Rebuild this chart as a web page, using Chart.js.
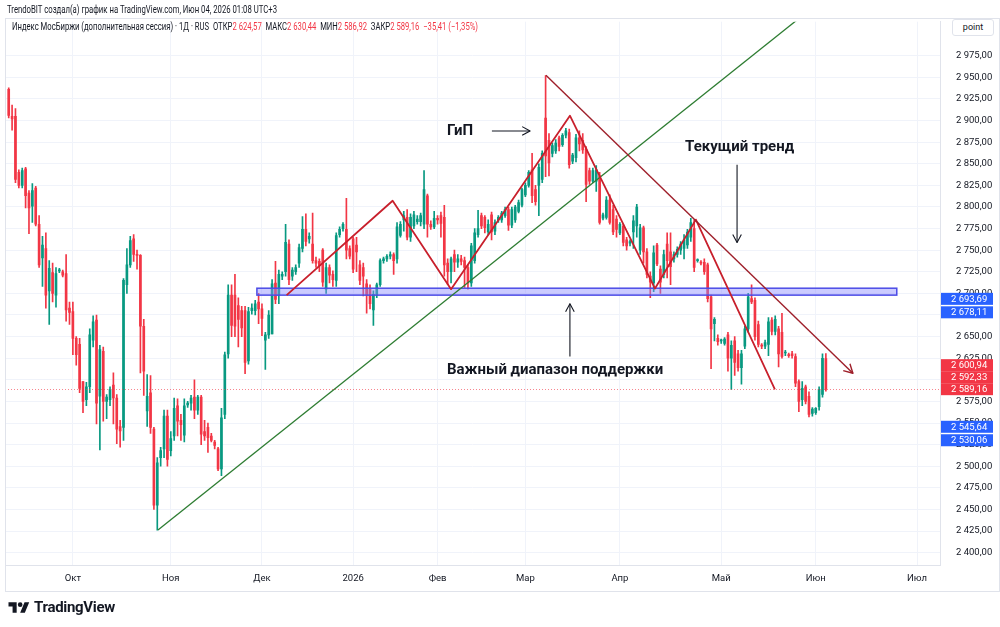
<!DOCTYPE html>
<html>
<head>
<meta charset="utf-8">
<script src="https://cdn.jsdelivr.net/npm/chart.js@4.4.1/dist/chart.umd.min.js"></script>
<style>
  body { margin: 0; background: #fff; }
  #wrap { position: relative; width: 1000px; height: 627px; overflow: hidden; }
  .txt { position: absolute; white-space: nowrap; font-family: Roboto, sans-serif; color: #131722; transform-origin: left center; }
  .r { color: #f23645; }
  #point { position: absolute; left: 952px; top: 19px; width: 40px; height: 15px; border: 1px solid #e0e3eb; border-radius: 3px;
           font: 9px Roboto, sans-serif; color: #131722; text-align: center; line-height: 15px; background: #fff; }
  #logo { position: absolute; left: 8px; top: 598px; display: flex; align-items: center; gap: 4px;
          font: bold 15px Roboto, sans-serif; color: #131722; letter-spacing: -0.3px; }
</style>
</head>
<body>
<div id="wrap">
  <canvas id="chart" width="1000" height="627"></canvas>
  <div class="txt" data-w="270" style="left:7px;top:4px;font-size:10px">TrendoBIT создал(а) график на TradingView.com, Июн 04, 2026 01:08 UTC+3</div>
  <div class="txt" data-w="466" style="left:12px;top:21px;font-size:10px">Индекс МосБиржи (дополнительная сессия) · 1Д · RUS &nbsp;ОТКР<span class="r">2 624,57</span> &nbsp;МАКС<span class="r">2 630,44</span> &nbsp;МИН<span class="r">2 586,92</span> &nbsp;ЗАКР<span class="r">2 589,16</span> &nbsp;<span class="r">−35,41 (−1,35%)</span></div>
  <div id="point">point</div>
  <div id="logo">
    <svg width="22" height="14" viewBox="0 0 36 24"><path d="M14 22H7V11H0V4h14v18z M28 22h-8l7.5-18h8L28 22z" fill="#131722"/><circle cx="20" cy="8" r="4" fill="#131722"/></svg>
    <span>TradingView</span>
  </div>
</div>
<script>
// daily candles, Sep 2025 - Jun 04 2026 (one entry per bar)
const opens = [
  2936,2905,2905,2840,2825,2844,2816,2801,2822,2780, 2741,2752,2703,2724,2698,2726,2725,2723,2683,2679,
  2648,2641,2598,2577,2592,2646,2669,2581,2633,2575, 2577,2594,2579,2546,2545,2710,2733,2763,2745,2744,
  2662,2564,2585,2543,2455,2510,2520,2558,
  2518,2535,2570,2553,2536,2571,2573,2580,2565,2580, 2540,2545,2535,2528,2520,2497,2560,2630,2698,2698,
  2686,2680,2680,2622,2680,2680,2690,2682,2646,2652, 2653,2712,2698,2720,2725,2757,2720,2725,2735,2752,
  2774,2763,2757,2738,2737,2750,2705,
  2730,2722,2715,2768,2775,2774,2752,2763,2756,2733, 2730,2711,2705,2681,2698,2710,2738,2740,2743,2745,
  2740,2767,2785,2788,2765,2778,2783,2783,2780,2813, 2780,2777,2787,2790,2788,2735,2725,2745,2736,2740,
  2738,2730,2712,2738,2768,2790,2788,
  2771,2791,2772,2785,2785,2790,2797,2779,2785,2795, 2802,2814,2825,2843,2820,2825,2832,2903,2877,2862,
  2865,2880,2872,2883,2886,2853,2857,2880,2877,2867, 2842,2830,2830,2836,2787,2788,2808,2797,2786,2770,
  2778,2762,2758,2771,2778,2750,2776,2748,2720,
  2712,2756,2728,2722,2757,2748,2740,2745,2750,2752, 2756,2765,2775,2738,2736,2736,2733,2696,2665,2648,
  2645,2642,2652,2625,2645,2630,2614,2639,2659,2694, 2692,2664,2640,2639,2641,2669,2656,2659,2655,2631,
  2629,2630,2627,2598,2577,2592,2581,2561,2562,2569, 2583,2624.57
];
const highs = [
  2938,2918,2914,2843,2845,2846,2819,2827,2824,2790, 2766,2770,2738,2735,2730,2729,2727,2745,2690,2690,
  2650,2648,2598,2597,2659,2674,2675,2640,2638,2583, 2592,2608,2583,2553,2717,2752,2766,2768,2750,2745,
  2670,2606,2605,2545,2510,2522,2565,2565,
  2540,2579,2578,2560,2578,2575,2582,2600,2582,2582, 2553,2550,2538,2530,2522,2567,2632,2710,2710,2722,
  2695,2685,2685,2684,2688,2692,2700,2688,2655,2680, 2716,2737,2727,2725,2780,2762,2730,2733,2757,2789,
  2792,2770,2793,2742,2740,2752,2735,
  2733,2726,2770,2777,2782,2810,2755,2765,2765,2738, 2735,2716,2710,2703,2712,2740,2742,2745,2748,2747,
  2782,2783,2795,2797,2792,2795,2790,2793,2842,2815, 2784,2795,2790,2794,2802,2740,2742,2750,2745,2744,
  2742,2733,2758,2775,2796,2793,2790,
  2785,2794,2785,2790,2795,2800,2800,2800,2802,2808, 2822,2828,2842,2862,2825,2850,2865,2952,2885,2874,
  2878,2882,2885,2891,2890,2862,2884,2888,2885,2870, 2845,2845,2848,2840,2793,2812,2814,2802,2790,2782,
  2780,2765,2762,2790,2803,2780,2778,2752,2725,
  2755,2758,2732,2750,2770,2770,2748,2754,2760,2768, 2774,2787,2785,2740,2738,2740,2735,2698,2672,2652,
  2647,2649,2655,2645,2650,2634,2634,2662,2700,2710, 2695,2668,2642,2646,2672,2672,2674,2662,2677,2634,
  2631,2633,2630,2600,2598,2594,2586,2568,2568,2592, 2630,2630.44
];
const lows = [
  2903,2889,2828,2822,2822,2799,2769,2782,2778,2730, 2708,2683,2664,2690,2684,2724,2719,2668,2664,2629,
  2617,2585,2562,2570,2585,2638,2549,2519,2552,2555, 2570,2549,2526,2522,2530,2700,2730,2737,2728,2608,
  2582,2546,2538,2450,2426,2500,2510,2500,
  2512,2530,2535,2530,2528,2568,2565,2555,2560,2525, 2530,2516,2528,2520,2495,2489,2555,2625,2650,2650,
  2638,2650,2607,2618,2676,2675,2665,2651,2612,2648, 2653,2688,2688,2716,2720,2710,2715,2722,2730,2748,
  2755,2758,2735,2730,2725,2708,2700,
  2712,2708,2708,2765,2772,2740,2740,2724,2725,2710, 2697,2677,2682,2663,2695,2708,2735,2737,2740,2722,
  2735,2765,2772,2762,2760,2775,2780,2778,2775,2765, 2774,2775,2780,2765,2720,2710,2712,2725,2730,2733,
  2707,2705,2708,2735,2765,2775,2770,
  2768,2762,2768,2782,2782,2788,2773,2776,2782,2793, 2800,2812,2823,2805,2802,2790,2828,2835,2836,2858,
  2862,2865,2870,2880,2845,2850,2852,2865,2862,2806, 2826,2828,2818,2780,2785,2786,2780,2768,2765,2768,
  2755,2750,2755,2752,2765,2745,2735,2718,2695,
  2702,2732,2700,2718,2718,2710,2736,2742,2745,2740, 2752,2760,2725,2736,2733,2722,2690,2613,2645,2640,
  2642,2640,2610,2589,2605,2610,2595,2636,2655,2688, 2646,2638,2636,2636,2628,2652,2652,2615,2625,2628,
  2626,2625,2592,2563,2570,2572,2557,2558,2560,2565, 2580,2586.92
];
const closes = [
  2906,2902,2832,2825,2842,2813,2799,2819,2780,2733, 2756,2698,2729,2700,2723,2727,2721,2681,2678,2648,
  2629,2590,2575,2592,2652,2667,2573,2635,2575,2580, 2589,2579,2543,2541,2715,2733,2761,2745,2744,2662,
  2610,2581,2545,2455,2504,2518,2558,2508,
  2532,2567,2552,2548,2570,2573,2579,2565,2580,2537, 2535,2533,2530,2524,2497,2556,2629,2698,2663,2662,
  2670,2660,2620,2679,2683,2688,2682,2671,2652,2675, 2711,2693,2722,2722,2759,2716,2727,2730,2753,2774,
  2760,2766,2738,2735,2732,2713,2730,
  2721,2716,2767,2774,2780,2750,2743,2728,2748,2715, 2720,2698,2688,2699,2710,2738,2740,2743,2745,2738,
  2777,2780,2790,2765,2788,2791,2786,2790,2820,2780, 2777,2787,2785,2781,2733,2725,2740,2736,2740,2737,
  2730,2712,2755,2770,2775,2778,2776,
  2780,2771,2782,2788,2793,2797,2779,2797,2800,2805, 2820,2825,2840,2813,2806,2846,2862,2859,2851,2871,
  2874,2870,2883,2888,2849,2860,2880,2873,2866,2826, 2830,2842,2843,2782,2791,2808,2782,2771,2774,2780,
  2759,2755,2760,2784,2800,2776,2748,2722,2713,
  2747,2734,2713,2745,2738,2731,2745,2751,2757,2762, 2771,2782,2730,2738,2735,2725,2694,2659,2670,2644,
  2645,2647,2625,2640,2620,2614,2630,2659,2696,2690, 2650,2641,2639,2643,2667,2656,2670,2630,2627,2631,
  2628,2628,2596,2575,2590,2575,2560,2566,2567,2589, 2625,2589.16
];

// time axis: bar index of the first bar of each month
const monthTicks = [19, 48, 75, 102, 127, 153, 181, 211, 239, 269];
const monthLabels = ['Окт', 'Ноя', 'Дек', '2026', 'Фев', 'Мар', 'Апр', 'Май', 'Июн', 'Июл'];
const priceTicks = [2400, 2425, 2450, 2475, 2500, 2525, 2550, 2575, 2600, 2625, 2650, 2675,
                    2700, 2725, 2750, 2775, 2800, 2825, 2850, 2875, 2900, 2925, 2950, 2975];

// drawings (bar index, price)
const greenLineX = [44.2, 233.4];
const greenLineY = [2426.1, 3016.2];
const trendLineX = [159.1, 250.0];
const trendLineY = [2952.4, 2607.6];
const zigzagX = [82.3, 113.7, 131.0, 166.2, 191.4, 203.5, 226.9];
const zigzagY = [2698.0, 2807.2, 2704.9, 2905.6, 2705.6, 2785.4, 2588.8];
const bandX = [73.5, 263.0];
const bandY = [2698, 2706];

const noteTexts = ['ГиП', 'Текущий тренд', 'Важный диапазон поддержки'];
const noteX = [129.8, 200.3, 129.8];
const noteY = [2888, 2869.6, 2611];
const arrowFromX = [143.1, 215.7, 166.2];
const arrowFromY = [2888, 2849, 2627];
const arrowToX = [154.4, 215.7, 166.2];
const arrowToY = [2888, 2759, 2688];

// price labels on the right scale
const axisLabelValues = [2693.69, 2678.11, 2600.94, 2592.33, 2589.16, 2545.64, 2530.06];
const axisLabelColors = ['#2962ff', '#2962ff', '#f23645', '#f23645', '#f23645', '#2962ff', '#2962ff'];
const lastPrice = 2589.16;

const UP = '#089981', DOWN = '#f23645';
const candleColors = closes.map((c, i) => c >= opens[i] ? UP : DOWN);

const fmt = v => Number(v).toLocaleString('ru-RU', { minimumFractionDigits: 2, maximumFractionDigits: 2 });

function arrowHead(ctx, x1, y1, x2, y2, len) {
    const ang = Math.atan2(y2 - y1, x2 - x1);
    ctx.beginPath();
    ctx.moveTo(x2 - len * Math.cos(ang - 0.5), y2 - len * Math.sin(ang - 0.5));
    ctx.lineTo(x2, y2);
    ctx.lineTo(x2 - len * Math.cos(ang + 0.5), y2 - len * Math.sin(ang + 0.5));
    ctx.stroke();
}

const overlay = {
    id: 'overlay',
    afterDatasetsDraw(chart) {
        const { ctx, chartArea: a, scales: { x, y } } = chart;
        const px = v => x.getPixelForValue(v);
        const py = v => y.getPixelForValue(v);
        ctx.save();
        ctx.beginPath();
        ctx.rect(a.left, a.top, a.right - a.left, a.bottom - a.top);
        ctx.clip();

        // last price dotted line
        ctx.strokeStyle = 'rgba(242,54,69,0.6)';
        ctx.lineWidth = 1;
        ctx.setLineDash([1, 2]);
        ctx.beginPath();
        ctx.moveTo(a.left, Math.round(py(lastPrice)) + 0.5);
        ctx.lineTo(a.right, Math.round(py(lastPrice)) + 0.5);
        ctx.stroke();
        ctx.setLineDash([]);

        // support band
        const bx = px(bandX[0]), bw = px(bandX[1]) - bx;
        const by = py(bandY[1]), bh = py(bandY[0]) - by;
        ctx.fillStyle = 'rgba(140,140,255,0.45)';
        ctx.fillRect(bx, by, bw, bh);
        ctx.strokeStyle = '#4b4be6';
        ctx.lineWidth = 1.5;
        ctx.strokeRect(bx, by, bw, bh);

        // green rising line
        ctx.strokeStyle = '#2e7d32';
        ctx.lineWidth = 1.3;
        ctx.beginPath();
        ctx.moveTo(px(greenLineX[0]), py(greenLineY[0]));
        ctx.lineTo(px(greenLineX[1]), py(greenLineY[1]));
        ctx.stroke();

        // zigzag
        ctx.strokeStyle = '#c8202c';
        ctx.lineWidth = 1.8;
        ctx.lineJoin = 'round';
        ctx.beginPath();
        zigzagX.forEach((v, i) => i ? ctx.lineTo(px(v), py(zigzagY[i])) : ctx.moveTo(px(v), py(zigzagY[i])));
        ctx.stroke();

        // falling trend line with arrow
        ctx.strokeStyle = '#9e1f2a';
        ctx.lineWidth = 1.4;
        const t1x = px(trendLineX[0]), t1y = py(trendLineY[0]);
        const t2x = px(trendLineX[1]), t2y = py(trendLineY[1]);
        ctx.beginPath();
        ctx.moveTo(t1x, t1y);
        ctx.lineTo(t2x, t2y);
        ctx.stroke();
        arrowHead(ctx, t1x, t1y, t2x, t2y, 10);

        // notes and arrows
        ctx.fillStyle = '#131722';
        ctx.font = 'bold 15px Roboto, sans-serif';
        ctx.textBaseline = 'middle';
        noteTexts.forEach((t, i) => ctx.fillText(t, px(noteX[i]), py(noteY[i])));
        ctx.strokeStyle = '#131722';
        ctx.lineWidth = 1.1;
        arrowFromX.forEach((v, i) => {
            const x1 = px(v), y1 = py(arrowFromY[i]), x2 = px(arrowToX[i]), y2 = py(arrowToY[i]);
            ctx.beginPath();
            ctx.moveTo(x1, y1);
            ctx.lineTo(x2, y2);
            ctx.stroke();
            arrowHead(ctx, x1, y1, x2, y2, 9);
        });
        ctx.restore();
    },
    afterDraw(chart) {
        const { ctx, scales: { y } } = chart;
        ctx.save();
        // pane frame
        ctx.strokeStyle = '#e0e3eb';
        ctx.lineWidth = 1;
        ctx.strokeRect(5.5, 18.5, 994, 573);
        // stacked price labels, pushed apart like the original scale does
        const h = 12;
        const order = axisLabelValues.map((v, i) => i).sort((i, j) => axisLabelValues[i] - axisLabelValues[j]);
        let prev = Infinity;
        ctx.font = '9.5px Roboto, sans-serif';
        ctx.textBaseline = 'middle';
        order.forEach(i => {
            let cy = Math.min(y.getPixelForValue(axisLabelValues[i]), prev - h);
            prev = cy;
            ctx.fillStyle = axisLabelColors[i];
            ctx.fillRect(941, cy - h / 2, 52, h);
            ctx.fillStyle = '#fff';
            ctx.fillText(fmt(axisLabelValues[i]), 951, cy + 0.5);
        });
        ctx.restore();
    }
};

const ctx = document.getElementById('chart').getContext('2d');
new Chart(ctx, {
    type: 'bar',
    data: {
        datasets: [
            {
                label: 'body',
                data: opens.map((o, i) => ({ x: i, y: [Math.min(o, closes[i]), Math.max(o, closes[i])] })),
                backgroundColor: candleColors,
                barThickness: 2,
                minBarLength: 1,
                grouped: false
            },
            {
                label: 'wick',
                data: lows.map((l, i) => ({ x: i, y: [l, highs[i]] })),
                backgroundColor: candleColors,
                barThickness: 1,
                grouped: false
            }
        ]
    },
    options: {
        responsive: false,
        animation: false,
        layout: { padding: { top: 18, left: 5, right: 0, bottom: 35 } },
        plugins: { legend: { display: false }, tooltip: { enabled: false } },
        scales: {
            x: {
                type: 'linear',
                min: -1.1,
                max: 275.8,
                offset: false,
                afterBuildTicks: s => { s.ticks = monthTicks.map(v => ({ value: v })); },
                afterFit: s => { s.height = 27; },
                ticks: {
                    callback: v => monthLabels[monthTicks.indexOf(v)],
                    autoSkip: false, maxRotation: 0, padding: 8,
                    color: '#131722', font: { family: 'Roboto', size: 9.5 }
                },
                grid: { color: '#f0f3fa', drawTicks: false, offset: false },
                border: { color: '#e0e3eb' }
            },
            y: {
                position: 'right',
                min: 2385.7,
                max: 3014.4,
                afterBuildTicks: s => { s.ticks = priceTicks.map(v => ({ value: v })); },
                afterFit: s => { s.width = 60; },
                ticks: {
                    callback: v => fmt(v),
                    crossAlign: 'near', padding: 16,
                    color: '#131722', font: { family: 'Roboto', size: 9.5 }
                },
                grid: { color: '#f0f3fa', drawTicks: false },
                border: { color: '#e0e3eb' }
            }
        }
    },
    plugins: [overlay]
});

// squeeze header lines to the widths seen in the screenshot
document.querySelectorAll('[data-w]').forEach(el => {
    const w = el.getBoundingClientRect().width;
    el.style.transform = `scaleX(${el.dataset.w / w})`;
});
</script>
</body>
</html>
